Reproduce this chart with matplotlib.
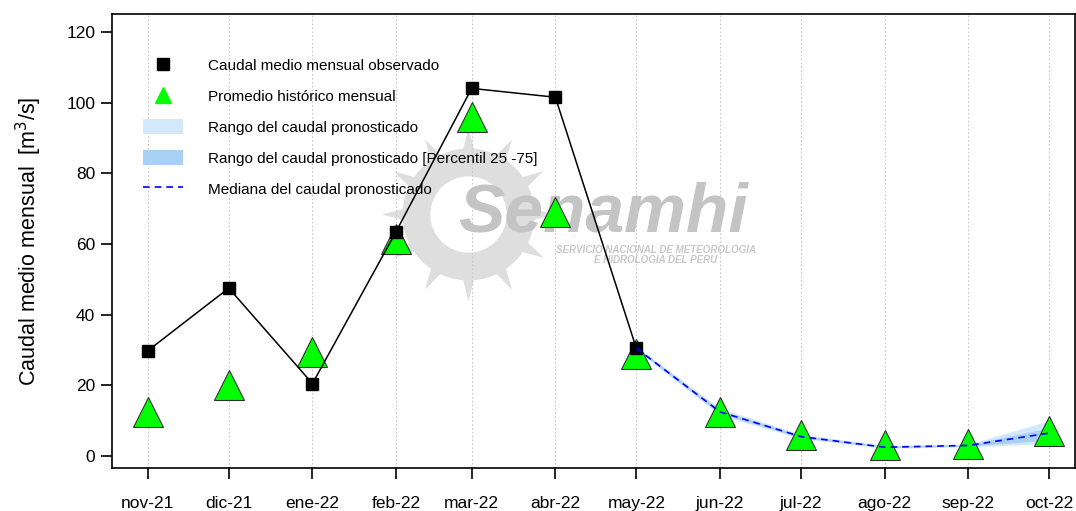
import numpy as np
import pandas as pd
import matplotlib
matplotlib.use("Agg")
import matplotlib.pyplot as plt
from matplotlib.patches import Patch
from matplotlib.lines import Line2D

plt.rcParams['font.family'] = ['Liberation Sans', 'DejaVu Sans']

# Datos
meses = ["nov-21", "dic-21", "ene-22", "feb-22", "mar-22", "abr-22",
         "may-22", "jun-22", "jul-22", "ago-22", "sep-22", "oct-22"]
fechas = pd.date_range("2021-11-01", "2022-10-01", freq="MS")

observado = [29.8, 47.5, 20.5, 63.5, 104.0, 101.5, 30.5]
historico = [12.5, 20.0, 29.5, 61.5, 96.0, 69.0, 29.0, 12.5, 6.0, 3.0, 3.5, 7.0]

# Pronostico (may-22 .. oct-22)
pron_mediana = [30.5, 12.5, 5.5, 2.5, 3.0, 6.5]
pron_min = [30.0, 11.5, 5.0, 2.2, 2.6, 3.5]
pron_max = [31.0, 13.5, 6.2, 3.0, 3.4, 10.0]
pron_p25 = [30.2, 12.0, 5.2, 2.4, 2.8, 4.5]
pron_p75 = [30.8, 13.0, 5.8, 2.8, 3.2, 8.0]

fp = fechas[6:]

fig = plt.figure(figsize=(10.76, 5.11), dpi=100)
ax = fig.add_axes([0.104, 0.084, 0.895, 0.889])

# marca de agua (logo)
ax.plot([0.37], [0.56], marker=(12, 1, 0), ms=125, color="#dedede",
        transform=ax.transAxes, zorder=0, mew=0)
ax.plot([0.37], [0.56], marker="o", ms=95, color="#dedede",
        transform=ax.transAxes, zorder=0, mew=0)
ax.plot([0.37], [0.56], marker="o", ms=55, color="white",
        transform=ax.transAxes, zorder=0, mew=0)
ax.text(0.51, 0.56, "Senamhi", transform=ax.transAxes, fontsize=50,
        fontweight="bold", fontstyle="italic", color="#c4c4c4",
        ha="center", va="center", zorder=0)
ax.text(0.565, 0.47, "SERVICIO NACIONAL DE METEOROLOGIA\nE HIDROLOGIA DEL PERU",
        transform=ax.transAxes, fontsize=7, fontweight="bold",
        fontstyle="italic", color="#c8c8c8", ha="center", va="center",
        linespacing=1.0, zorder=0)

for f in fechas:
    ax.axvline(f, color="#c8c8c8", lw=0.8, ls=(0, (1.5, 2)), zorder=1)

ax.fill_between(fp, pron_min, pron_max, color="#d4e8fc", lw=0, zorder=2)
ax.fill_between(fp, pron_p25, pron_p75, color="#a9d0f5", lw=0, zorder=2)

ax.plot(fechas, historico, "^", ms=21, color="#00ff00", mec="#303030",
        mew=0.8, zorder=3)
ax.plot(fechas[:7], observado, "-", color="black", lw=1.1, zorder=4)
ax.plot(fechas[:7], observado, "s", ms=8.5, color="black", zorder=5)
ax.plot(fp, pron_mediana, "--", color="#0000ff", lw=1.2, dashes=(4, 3), zorder=6)

ax.set_xlim(fechas[0] - pd.Timedelta(days=13.3), fechas[-1] + pd.Timedelta(days=9.5))
ax.set_ylim(-3.4, 125.1)
ax.set_xticks(fechas)
ax.set_xticklabels(meses)
ax.set_yticks(range(0, 121, 20))
ax.tick_params(axis="both", direction="out", length=8, width=1.2,
               labelsize=12.5, colors="black")
ax.tick_params(axis="x", pad=12)
ax.tick_params(axis="y", pad=4)
for s in ax.spines.values():
    s.set_linewidth(1.2)

ax.set_ylabel("Caudal medio mensual  [m$^3$/s]", fontsize=15.5, labelpad=16)

handles = [
    Line2D([], [], marker="s", color="black", ls="none", ms=9),
    Line2D([], [], marker="^", color="#00ff00", ls="none", ms=11),
    Patch(facecolor="#d4e8fc", edgecolor="none"),
    Patch(facecolor="#a9d0f5", edgecolor="none"),
    Line2D([], [], color="#0000ff", ls="--", lw=1.2, dashes=(4, 3)),
]
labels = ["Caudal medio mensual observado", "Promedio histórico mensual",
          "Rango del caudal pronosticado",
          "Rango del caudal pronosticado [Percentil 25 -75]",
          "Mediana del caudal pronosticado"]
ax.legend(handles, labels, loc="upper left", bbox_to_anchor=(0.02, 0.93),
          frameon=False, fontsize=11, labelspacing=1.0,
          handlelength=2.6, handleheight=1.1, handletextpad=1.6,
          borderaxespad=0.4)

fig.savefig("out.png", dpi=100)
